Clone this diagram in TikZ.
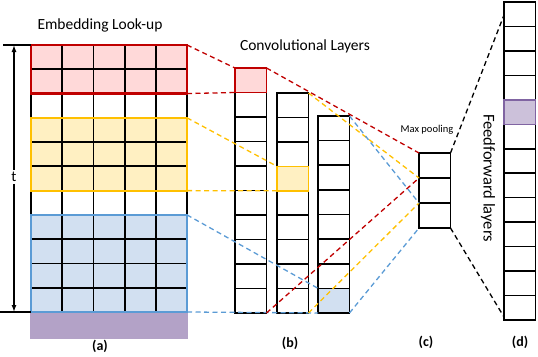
\documentclass[tikz,border=0pt]{standalone}
\usepackage{fontspec}
\setmainfont{Carlito}
\usetikzlibrary{arrows.meta}
\definecolor{redline}{RGB}{192,0,0}
\definecolor{redfill}{RGB}{255,217,217}
\definecolor{yelline}{RGB}{255,192,0}
\definecolor{yelfill}{RGB}{255,240,194}
\definecolor{bluline}{RGB}{91,155,213}
\definecolor{blufill}{RGB}{210,224,241}
\definecolor{purfill}{RGB}{179,162,199}
\definecolor{purcell}{RGB}{204,193,218}
\definecolor{purline}{RGB}{128,100,162}
\begin{document}
\begin{tikzpicture}[x=1pt,y=-1pt,
  cell/.style={draw=black, line width=1.6pt, minimum width=31.5pt, minimum height=24.5pt, inner sep=0pt, outer sep=0pt, anchor=north west},
  ebox/.style={minimum width=156pt, inner sep=0pt, outer sep=0pt, anchor=north west},
  conn/.style={line width=1.3pt, dash pattern=on 5pt off 3.5pt},
  head/.style={font=\fontsize{15.5}{18}\selectfont},
  lab/.style={font=\fontsize{14}{16}\selectfont\bfseries},
  gridline/.style={line width=1.8pt, black},
  boxborder/.style={line width=2.2pt}]
\useasboundingbox (0,0) rectangle (538,356);

% ---------- (a) embedding look-up ----------
\node[ebox, fill=redfill, minimum height=48.55pt] (rbox) at (31,45) {};
\node[ebox, fill=yelfill, minimum height=72.82pt] (ybox) at (31,117.82) {};
\node[ebox, fill=blufill, minimum height=97.09pt] (bbox) at (31,214.91) {};
\node[fill=purfill, minimum width=158pt, minimum height=27pt, inner sep=0pt, outer sep=0pt, anchor=north west] (pbar) at (30,312) {};
\foreach \x in {31,62.2,93.4,124.6,155.8,187}
  \draw[gridline] (\x,45) -- (\x,312);
\foreach \y in {69.27,142.09,166.36,239.18,263.45,287.73}
  \draw[gridline] (31,\y) -- (187,\y);
\draw[boxborder, redline] (rbox.north west) rectangle (rbox.south east);
\draw[boxborder, yelline] (ybox.north west) rectangle (ybox.south east);
\draw[boxborder, bluline] (bbox.north west) rectangle (bbox.south east);

% t arrow
\coordinate (ttop) at (14,45);
\coordinate (tbot) at (14,312);
\coordinate (tickl) at (3,45);
\coordinate (tickb) at (0,312);
\node[fill=white, inner sep=2pt, font=\fontsize{15}{16}\selectfont] (tlab) at (14,177) {t};
\draw[line width=1.3pt, -{Latex[length=7pt,width=5pt]}] (tlab) -- (ttop);
\draw[line width=1.3pt, -{Latex[length=7pt,width=5pt]}] (tlab) -- (tbot);
\draw[line width=1.3pt] (tickl) -- (rbox.north west);
\draw[line width=1.3pt] (tickb) -- (bbox.south west);

% ---------- (b) convolutional layers ----------
\foreach \i in {1,...,10}
  \node[cell] (ca\i) at (235,{68+(\i-1)*24.5}) {};
\node[cell, fill=redfill, draw=redline] (rcell) at (235,68) {};
\foreach \i in {1,...,9}
  \node[cell, minimum height=24.44pt] (cb\i) at (277,{93+(\i-1)*24.44}) {};
\node[cell, minimum height=24.44pt, fill=yelfill, draw=yelline] (ycell) at (277,166.32) {};
\foreach \i in {1,...,8}
  \node[cell, minimum height=24.62pt] (cc\i) at (318,{116+(\i-1)*24.62}) {};
\node[cell, minimum height=24.62pt, fill=blufill, draw=black] (bcell) at (318,288.34) {};

% ---------- (c) max pooling ----------
\foreach \i in {1,2,3}
  \node[cell, minimum height=25pt] (mp\i) at (419,{153+(\i-1)*25}) {};

% ---------- (d) feedforward ----------
\foreach \i in {1,...,13}
  \node[cell, minimum height=24.46pt] (fd\i) at (504,{2+(\i-1)*24.46}) {};
\node[cell, minimum height=24.46pt, fill=purcell, draw=purline] (pcell) at (504,99.84) {};
\coordinate (fdtop) at (504,15);
\coordinate (fdbot) at (504,317);

% ---------- connectors ----------
\draw[conn, redline] (rbox.north east) -- (rcell.north west);
\draw[conn, redline] (rbox.south east) -- (rcell.south west);
\draw[conn, yelline] (ybox.north east) -- (ycell.north west);
\draw[conn, yelline] (ybox.south east) -- (ycell.south west);
\draw[conn, bluline] (bbox.north east) -- (bcell.north west);
\draw[conn, bluline] (bbox.south east) -- (bcell.south west);
\draw[conn, redline] (rcell.north east) -- (mp1.north west);
\draw[conn, redline] (ca10.south east) -- (mp2.north west);
\draw[conn, yelline] (cb1.north east) -- (mp2.north west);
\draw[conn, yelline] (cb9.south east) -- (mp3.north west);
\draw[conn, bluline] (cc1.north east) -- (mp3.north west);
\draw[conn, bluline] (bcell.south east) -- (mp3.south west);
\draw[conn, black] (mp1.north east) -- (fdtop);
\draw[conn, black] (mp3.south east) -- (fdbot);

% ---------- texts ----------
\node[head] (embt) at (100,25) {Embedding Look-up};
\node[head] (convt) at (305,46) {Convolutional Layers};
\node[font=\fontsize{10.5}{12}\selectfont] (mpt) at (427,130) {Max pooling};
\node[head, font=\fontsize{16.5}{18}\selectfont, rotate=-90] (fft) at (488,178) {Feedforward layers};
\node[lab] (la) at (100,346) {(a)};
\node[lab] (lb) at (290,343) {(b)};
\node[lab] (lc) at (426,342) {(c)};
\node[lab] (ld) at (520,342) {(d)};
\end{tikzpicture}
\end{document}
